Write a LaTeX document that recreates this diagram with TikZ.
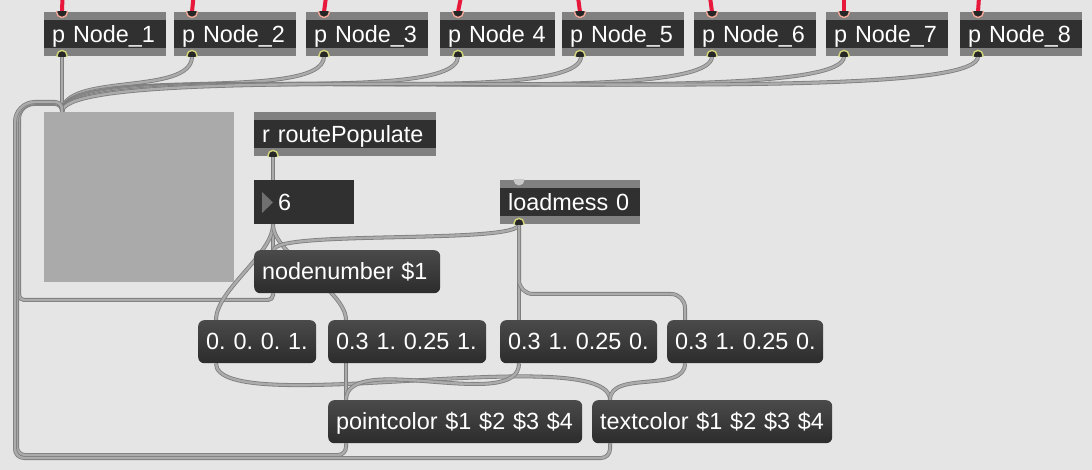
\documentclass[tikz,border=0pt]{standalone}
\usepackage{fontspec}
\setmainfont{Liberation Sans}
\usetikzlibrary{calc}
\pgfdeclarelayer{back}
\pgfdeclarelayer{wires}
\pgfsetlayers{back,wires,main}
\definecolor{bgc}{HTML}{E5E5E5}
\definecolor{stripc}{HTML}{808080}
\definecolor{darkc}{HTML}{303030}
\definecolor{panelc}{HTML}{AAAAAA}
\definecolor{msgtop}{HTML}{4A4A4A}
\definecolor{msgbot}{HTML}{2C2C2C}
\definecolor{cordedge}{HTML}{7E7E7E}
\definecolor{cordfill}{HTML}{ABABAB}
\definecolor{redc}{HTML}{E8173C}
\definecolor{pinkring}{HTML}{F2A898}
\definecolor{yelring}{HTML}{D2D47C}
\definecolor{portdark}{HTML}{262626}
\definecolor{lightport}{HTML}{C8C8C8}
\definecolor{trig}{HTML}{707070}
\newcommand\mxfont{\fontsize{23.4pt}{26pt}\selectfont\frenchspacing}
\newcommand\nb[1]{\mbox{#1}}
\newcommand\mxin[3]{\begin{scope}\clip (#1.south west) rectangle (#1.north east);
  \filldraw[#3] ([xshift=#2pt]#1.north west) circle[radius=5.5pt];\end{scope}}
\newcommand\mxout[2]{\begin{scope}\clip (#1.south west) rectangle (#1.north east);
  \filldraw[outp] ([xshift=#2pt,yshift=1pt]#1.south west) circle[radius=5pt];\end{scope}}
\begin{document}
\frenchspacing
\begin{tikzpicture}[x=1pt,y=-1pt,
  obj/.style={anchor=north west, inner sep=0pt, inner xsep=8pt, minimum height=44pt,
    text height=19pt, text depth=3pt, align=left, text=white, font=\mxfont, fill=stripc,
    path picture={\fill[darkc] ([yshift=-8pt]path picture bounding box.north west)
      rectangle ([yshift=8pt]path picture bounding box.south east);}},
  msg/.style={anchor=north west, inner sep=0pt, inner xsep=8pt, minimum height=43pt,
    text height=19pt, text depth=3pt, align=left, text=white, font=\mxfont,
    rounded corners=6pt, top color=msgtop, bottom color=msgbot, draw=none},
  numbox/.style={anchor=north west, inner sep=0pt, inner xsep=20pt, minimum height=44pt,
    text height=19pt, text depth=3pt, align=left, text=white, font=\mxfont, fill=darkc,
    text width=60pt},
  panelbox/.style={anchor=north west, fill=panelc, minimum width=190pt,
    minimum height=170pt, inner sep=0pt},
  inp/.style={fill=portdark, draw=pinkring, line width=1.4pt},
  outp/.style={fill=portdark, draw=yelring, line width=1.4pt},
  lmin/.style={fill=lightport, draw=none},
  cord/.style={draw=cordedge, line width=0.8pt, double=cordfill, double distance=2.4pt},
  redcord/.style={draw=redc, line width=4pt}]
\useasboundingbox (0,0) rectangle (1092,470);
\begin{pgfonlayer}{back}
  \fill[bgc] (0,0) rectangle (1092,470);
\end{pgfonlayer}

% boxes
\node[panelbox] (panel) at (44,112) {};
\node[obj, text width=106pt] (n1) at (44,12) {\nb{p Node\_1}};
\node[obj, text width=106pt] (n2) at (174,12) {\nb{p Node\_2}};
\node[obj, text width=106pt] (n3) at (306,12) {\nb{p Node\_3}};
\node[obj, text width=99pt] (n4) at (440,12) {\nb{p Node 4}};
\node[obj, text width=106pt] (n5) at (562,12) {\nb{p Node\_5}};
\node[obj, text width=106pt] (n6) at (694,12) {\nb{p Node\_6}};
\node[obj, text width=106pt] (n7) at (826,12) {\nb{p Node\_7}};
\node[obj, text width=106pt] (n8) at (960,12) {\nb{p Node\_8}};
\node[obj, text width=166pt] (rp) at (254,112) {\nb{r routePopulate}};
\node[numbox] (num) at (254,180) {\hspace*{4pt}6};
\fill[trig] ([xshift=8pt,yshift=-12pt]num.north west) -- ([xshift=19pt,yshift=-22.5pt]num.north west)
  -- ([xshift=8pt,yshift=-33pt]num.north west) -- cycle;
\node[obj, text width=124pt] (lm) at (500,180) {\nb{loadmess 0}};
\node[msg, text width=170pt] (nn) at (254,250) {\nb{nodenumber \$1}};
\node[msg, text width=102pt] (m1) at (198,320) {\nb{0. 0. 0. 1.}};
\node[msg, text width=142pt] (m2) at (328,320) {\nb{0.3 1. 0.25 1.}};
\node[msg, text width=141pt] (m3) at (500,320) {\nb{0.3 1. 0.25 0.}};
\node[msg, text width=140pt] (m4) at (667,320) {\nb{0.3 1. 0.25 0.}};
\node[msg, text width=238pt] (pc) at (328,400) {\nb{pointcolor \$1 \$2 \$3 \$4}};
\node[msg, text width=224pt] (tc) at (592,400) {\nb{textcolor \$1 \$2 \$3 \$4}};

% ports
\foreach \n in {n1,n2,n3,n4,n5,n6,n7,n8}{\mxin{\n}{18}{inp}\mxout{\n}{18}}
\mxout{rp}{19}
\mxin{lm}{19}{lmin}
\mxout{lm}{19}

% free ends of incoming red cords
\coordinate (t1) at (62.5,-3);
\coordinate (t2) at (193.5,-3);
\coordinate (t3) at (326,-3);
\coordinate (t4) at (461,-3);
\coordinate (t5) at (578,-3);
\coordinate (t6) at (710,-3);
\coordinate (t7) at (844,-3);
\coordinate (t8) at (979,-3);

\begin{pgfonlayer}{wires}
  \foreach \i in {1,...,8}{\draw[redcord] (t\i) -- ([xshift=18pt]n\i.north west);}
  % node outlets to panel
  \draw[cord] ([xshift=18pt]n1.south west) -- ([xshift=18pt]panel.north west);
  \draw[cord] ([xshift=18pt]n2.south west) .. controls +(0,40) and +(0,-40) .. ([xshift=18pt]panel.north west);
  \draw[cord] ([xshift=18pt]n3.south west) .. controls +(0,48) and +(0,-48) .. ([xshift=18pt]panel.north west);
  \draw[cord] ([xshift=18pt]n4.south west) .. controls +(0,54) and +(0,-54) .. ([xshift=18pt]panel.north west);
  \draw[cord] ([xshift=19pt]n5.south west) .. controls +(0,58) and +(0,-58) .. ([xshift=18pt]panel.north west);
  \draw[cord] ([xshift=18pt]n6.south west) .. controls +(0,60) and +(0,-60) .. ([xshift=18pt]panel.north west);
  \draw[cord] ([xshift=18pt]n7.south west) .. controls +(0,60) and +(0,-60) .. ([xshift=18pt]panel.north west);
  \draw[cord] ([xshift=18pt]n8.south west) .. controls +(0,60) and +(0,-60) .. ([xshift=18pt]panel.north west);
  % loops back into the panel from the left
  \draw[cord] ([xshift=19pt]nn.south west) [rounded corners=5pt] |- (19,300)
    [rounded corners=15pt] -- (19,104) [rounded corners=7pt] -| ([xshift=18pt]panel.north west);
  \draw[cord] ([xshift=18pt]pc.south west) [rounded corners=8pt] |- (17,455)
    [rounded corners=18pt] -- (17,103) [rounded corners=7pt] -| ([xshift=18pt]panel.north west);
  \draw[cord] ([xshift=18pt]tc.south west) [rounded corners=9pt] |- (15,458)
    [rounded corners=20pt] -- (15,102) [rounded corners=7pt] -| ([xshift=18pt]panel.north west);
  % upper middle
  \draw[cord] ([xshift=19pt]rp.south west) -- ([xshift=19pt]num.north west);
  \draw[cord] ([xshift=19pt]num.south west) -- ([xshift=19pt]nn.north west);
  \draw[cord] ([xshift=19pt]num.south west) .. controls +(0,30) and +(0,-30) .. ([xshift=18pt]m1.north west);
  \draw[cord] ([xshift=19pt]num.south west) .. controls +(0,30) and +(0,-30) .. ([xshift=18pt]m2.north west);
  \draw[cord] ([xshift=19pt]lm.south west) .. controls +(0,20) and +(0,-20) .. ([xshift=20pt]nn.north west);
  \draw[cord] ([xshift=19pt]lm.south west) -- ([xshift=19pt]m3.north west);
  \draw[cord, rounded corners=14pt] ([xshift=19pt]lm.south west) |- ([xshift=18pt,yshift=26pt]m4.north west)
    -- ([xshift=18pt]m4.north west);
  % lower
  \draw[cord] ([xshift=18pt]m1.south west) .. controls +(0,57) and +(0,-60) .. ([xshift=18pt]tc.north west);
  \draw[cord] ([xshift=18pt]m2.south west) -- ([xshift=18pt]pc.north west);
  \draw[cord] ([xshift=19pt]m3.south west) .. controls +(0,50) and +(0,-50) .. ([xshift=18pt]pc.north west);
  \draw[cord] ([xshift=18pt]m4.south west) .. controls +(0,30) and +(0,-30) .. ([xshift=18pt]tc.north west);
\end{pgfonlayer}
\end{tikzpicture}
\end{document}
